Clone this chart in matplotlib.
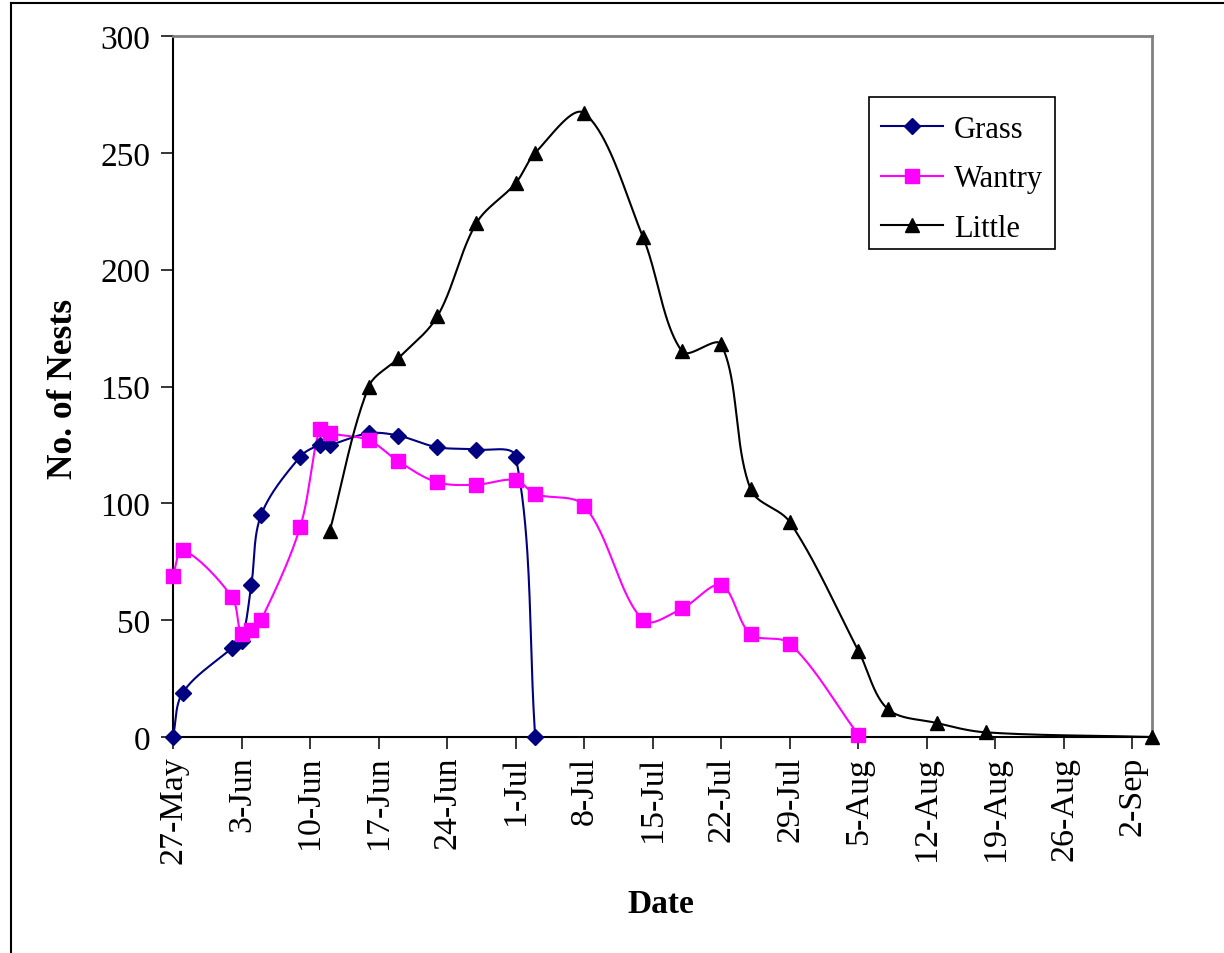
import numpy as np
import pandas as pd
import matplotlib
matplotlib.use("Agg")
import matplotlib.pyplot as plt
import matplotlib.dates as mdates
from matplotlib.lines import Line2D
from matplotlib.patches import Rectangle

plt.rcParams['font.family'] = ['Liberation Serif', 'DejaVu Serif']

# ---- data -------------------------------------------------------------
grass_dates = ["2004-05-27", "2004-05-28", "2004-06-02", "2004-06-03", "2004-06-04",
               "2004-06-05", "2004-06-09", "2004-06-11", "2004-06-12", "2004-06-16",
               "2004-06-19", "2004-06-23", "2004-06-27", "2004-07-01", "2004-07-03"]
grass_nests = [0, 19, 38, 41, 65, 95, 120, 125, 125, 130, 129, 124, 123, 120, 0]

wantry_dates = ["2004-05-27", "2004-05-28", "2004-06-02", "2004-06-03", "2004-06-04",
                "2004-06-05", "2004-06-09", "2004-06-11", "2004-06-12", "2004-06-16",
                "2004-06-19", "2004-06-23", "2004-06-27", "2004-07-01", "2004-07-03",
                "2004-07-08", "2004-07-14", "2004-07-18", "2004-07-22", "2004-07-25",
                "2004-07-29", "2004-08-05"]
wantry_nests = [69, 80, 60, 44, 46, 50, 90, 132, 130, 127, 118, 109, 108, 110, 104,
                99, 50, 55, 65, 44, 40, 1]

little_dates = ["2004-06-12", "2004-06-16", "2004-06-19", "2004-06-23", "2004-06-27",
                "2004-07-01", "2004-07-03", "2004-07-08", "2004-07-14", "2004-07-18",
                "2004-07-22", "2004-07-25", "2004-07-29", "2004-08-05", "2004-08-08",
                "2004-08-13", "2004-08-18", "2004-09-04"]
little_nests = [88, 150, 162, 180, 220, 237, 250, 267, 214, 165, 168, 106, 92, 37, 12,
                6, 2, 0]

axis_start = "2004-05-27"
axis_end = "2004-09-04"
y_ticks = [0, 50, 100, 150, 200, 250, 300]

# ---- figure -------------------------------------------------------------
W, H = 1224, 954
fig = plt.figure(figsize=(W / 100, H / 100), dpi=100)
ax = fig.add_axes([173 / W, 1 - 738 / H, (1152 - 173) / W, (738 - 37) / H])

t0 = mdates.date2num(pd.Timestamp(axis_start))
t1 = mdates.date2num(pd.Timestamp(axis_end))

# px per day / px per nest, so the smoothing behaves like a screen-space spline
SX = (1152 - 173) / (t1 - t0)
SY = (738 - 37) / 300.0


def smooth(x, y, n=40):
    """Bezier smoothing through every point, control arms scaled by segment length."""
    P = np.column_stack([np.asarray(x, float) * SX, np.asarray(y, float) * SY])
    P = np.vstack([P[0], P, P[-1]])
    out = [P[1:2]]
    t = np.linspace(0, 1, n)[1:, None]
    for i in range(1, len(P) - 2):
        p0, p1, p2, p3 = P[i - 1], P[i], P[i + 1], P[i + 2]
        d01 = np.hypot(*(p1 - p0))
        d12 = np.hypot(*(p2 - p1))
        d23 = np.hypot(*(p3 - p2))
        k1 = d12 / (d01 + d12) if d01 + d12 > 0 else 0.5
        k2 = d12 / (d12 + d23) if d12 + d23 > 0 else 0.5
        c1 = p1 + (p2 - p0) * k1 / 3.0
        c2 = p2 - (p3 - p1) * k2 / 3.0
        seg = ((1 - t) ** 3) * p1 + 3 * ((1 - t) ** 2) * t * c1 \
            + 3 * (1 - t) * t ** 2 * c2 + t ** 3 * p2
        out.append(seg)
    pts = np.vstack(out)
    return pts[:, 0] / SX, pts[:, 1] / SY


series = [
    ("Grass", grass_dates, grass_nests, "#000080", "D", 7.8),
    ("Wantry", wantry_dates, wantry_nests, "#FF00FF", "s", 10.0),
    ("Little", little_dates, little_nests, "#000000", "^", 10.5),
]

handles = []
for name, dts, vals, col, mk, ms in series:
    x = mdates.date2num(pd.to_datetime(dts))
    xs, ys = smooth(x, vals)
    ax.plot(xs, ys, color=col, lw=1.5, clip_on=False, zorder=3)
    ax.plot(x, vals, ls="none", marker=mk, ms=ms, color=col, mec=col,
            clip_on=False, zorder=4)
    handles.append(Line2D([], [], color=col, lw=1.5, marker=mk, ms=ms, mec=col,
                          label=name))

ax.set_xlim(t0, t1)
ax.set_ylim(0, 300)
ax.set_yticks(y_ticks)

tick_days = pd.date_range(axis_start, "2004-09-02", freq="7D")
ax.set_xticks(mdates.date2num(tick_days))
ax.set_xticklabels([f"{d.day}-{d.strftime('%b')}" for d in tick_days],
                   rotation=90, fontsize=24.5)
ax.tick_params(axis="y", labelsize=24, direction="out", length=8.5, width=1.1, pad=8)
ax.tick_params(axis="x", direction="out", length=8.5, width=1.1, pad=5)

for s in ("left", "bottom"):
    ax.spines[s].set_color("black")
    ax.spines[s].set_linewidth(1.5)
for s in ("top", "right"):
    ax.spines[s].set_color("#808080")
    ax.spines[s].set_linewidth(2.0)

fig.text(63 / W, 1 - 389 / H, "No. of Nests", rotation=90, ha="center", va="center",
         fontsize=25.5, fontweight="bold")
fig.text(661 / W, 1 - 905 / H, "Date", ha="center", va="center",
         fontsize=24, fontweight="bold")

# legend entries, with a separate box around them
ax.legend(handles=handles, loc="upper left",
          bbox_to_anchor=(869 / W, 1 - 104 / H), bbox_transform=fig.transFigure,
          borderaxespad=0, fontsize=22, frameon=False,
          handlelength=2.05, handletextpad=0.35, borderpad=0.38,
          labelspacing=0.68)
fig.add_artist(Rectangle((869 / W, 1 - 250 / H), (1055 - 869) / W, (250 - 98) / H,
                         transform=fig.transFigure, fill=False, edgecolor="black",
                         lw=1.2, zorder=5))

# outer chart border
fig.add_artist(Line2D([11 / W, 11 / W], [0, 1 - 4 / H], color="black", lw=1.5,
                      transform=fig.transFigure))
fig.add_artist(Line2D([11 / W, 1], [1 - 4 / H, 1 - 4 / H], color="black", lw=1.5,
                      transform=fig.transFigure))

fig.savefig("out.png", dpi=100)
